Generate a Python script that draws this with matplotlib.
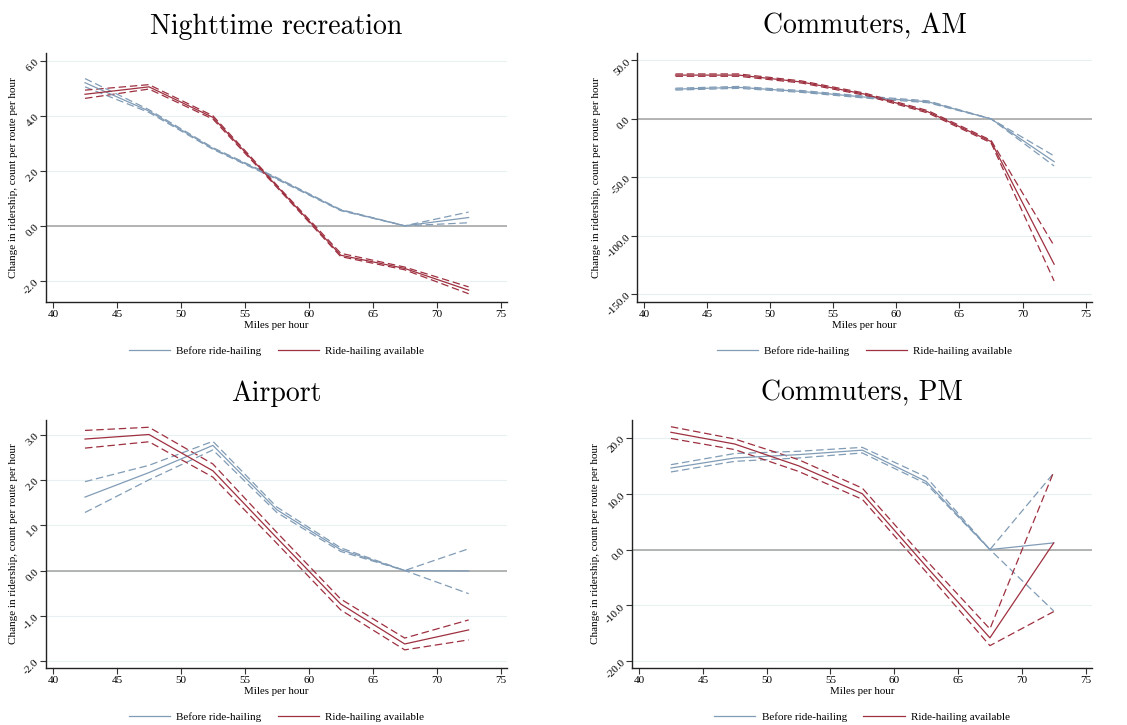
"""Speed-bin effects on ridership, before and after ride-hailing (4 panels)."""

import numpy as np
import matplotlib.pyplot as plt

# Speed bins (mph)
mph = [42.5, 47.5, 52.5, 57.5, 62.5, 67.5, 72.5]

# Nighttime recreation
night_before = [5.20, 4.17, 2.81, 1.72, 0.57, 0.0, 0.30]
night_before_lo = [5.05, 4.12, 2.78, 1.69, 0.55, 0.0, 0.11]
night_before_hi = [5.35, 4.22, 2.84, 1.75, 0.59, 0.0, 0.50]
night_after = [4.78, 5.05, 3.94, 1.44, -1.07, -1.55, -2.34]
night_after_lo = [4.63, 4.97, 3.88, 1.40, -1.12, -1.60, -2.47]
night_after_hi = [4.93, 5.13, 4.00, 1.48, -1.00, -1.50, -2.22]

# Commuters, AM
am_before = [25.4, 26.9, 23.4, 18.6, 14.6, 0.0, -36.6]
am_before_lo = [24.6, 26.1, 22.6, 17.8, 13.8, 0.0, -40.3]
am_before_hi = [26.2, 27.7, 24.2, 19.4, 15.4, 0.0, -31.7]
am_after = [37.4, 37.4, 31.5, 21.1, 6.0, -19.4, -124.3]
am_after_lo = [36.4, 36.4, 30.6, 20.2, 5.0, -20.5, -138.6]
am_after_hi = [38.4, 38.4, 32.4, 22.0, 7.0, -18.3, -108.6]

# Airport
air_before = [1.62, 2.16, 2.76, 1.34, 0.46, 0.0, -0.01]
air_before_lo = [1.28, 2.00, 2.66, 1.28, 0.42, 0.0, -0.51]
air_before_hi = [1.96, 2.32, 2.85, 1.40, 0.50, 0.0, 0.48]
air_after = [2.90, 3.00, 2.20, 0.72, -0.74, -1.62, -1.31]
air_after_lo = [2.70, 2.84, 2.06, 0.60, -0.87, -1.75, -1.53]
air_after_hi = [3.09, 3.16, 2.35, 0.84, -0.63, -1.49, -1.09]

# Commuters, PM
pm_before = [14.6, 16.4, 17.0, 17.8, 12.2, 0.0, 1.2]
pm_before_lo = [13.9, 15.8, 16.4, 17.3, 11.8, 0.0, -11.0]
pm_before_hi = [15.2, 17.2, 17.6, 18.3, 13.0, 0.0, 13.7]
pm_after = [21.0, 18.9, 15.0, 10.0, -3.0, -15.8, 1.2]
pm_after_lo = [19.9, 17.9, 14.0, 9.0, -4.0, -17.2, -11.1]
pm_after_hi = [22.0, 19.8, 16.1, 11.0, -1.9, -14.2, 13.9]

BLUE = "#819cb6"
RED = "#9e3040"
SERIF = ["Liberation Serif", "DejaVu Serif"]

plt.rcParams["font.family"] = SERIF


def panel(ax, title, before, b_lo, b_hi, after, a_lo, a_hi, yticks, ylim):
    x = np.array(mph)
    ax.axhline(0, color="#a8a8a8", lw=1.2, zorder=1)
    for yt in yticks:
        ax.axhline(yt, color="#e8f0f2", lw=0.8, zorder=0)
    for mean, lo, hi, col in [(before, b_lo, b_hi, BLUE),
                              (after, a_lo, a_hi, RED)]:
        ax.plot(x, lo, color=col, lw=0.9, dashes=(6, 3), zorder=2)
        ax.plot(x, hi, color=col, lw=0.9, dashes=(6, 3), zorder=2)
        ax.plot(x, mean, color=col, lw=0.9, zorder=3)

    ax.set_xlim(39.45, 75.5)
    ax.set_ylim(*ylim)
    ax.set_xticks(range(40, 80, 5))
    ax.set_yticks(yticks)
    ax.set_yticklabels([f"{v:.1f}" for v in yticks], rotation=45,
                       va="center", ha="right", rotation_mode="anchor")
    ax.tick_params(labelsize=8, length=4, width=0.8, color="#333333",
                   pad=2)
    for s in ["top", "right"]:
        ax.spines[s].set_visible(False)
    for s in ["left", "bottom"]:
        ax.spines[s].set_color("#222222")
        ax.spines[s].set_linewidth(1.0)

    ax.set_xlabel("Miles per hour", fontsize=7.8, labelpad=1.5)
    ax.set_ylabel("Change in ridership, count per route per hour",
                  fontsize=8, labelpad=3)
    ax.set_title(title, fontsize=20, family="cmr10", pad=14)

    h1, = ax.plot([], [], color=BLUE, lw=0.9)
    h2, = ax.plot([], [], color=RED, lw=0.9)
    ax.legend([h1, h2], ["Before ride-hailing", "Ride-hailing available"],
              loc="center", bbox_to_anchor=(0.5, -0.197), ncol=2,
              frameon=False, fontsize=8, handlelength=3.7,
              handletextpad=0.55, columnspacing=1.5)


fig = plt.figure(figsize=(11.27, 7.25), dpi=100)
W, H = 1127.0, 725.0

ax1 = fig.add_axes([46 / W, 1 - 302 / H, 461 / W, 249 / H])
ax2 = fig.add_axes([637 / W, 1 - 302 / H, 455 / W, 249 / H])
ax3 = fig.add_axes([46 / W, 1 - 668 / H, 461 / W, 248 / H])
ax4 = fig.add_axes([632 / W, 1 - 668 / H, 460 / W, 248 / H])

panel(ax1, "Nighttime recreation", night_before, night_before_lo,
      night_before_hi, night_after, night_after_lo, night_after_hi,
      [-2.0, 0.0, 2.0, 4.0, 6.0], (-2.77, 6.28))
panel(ax2, "Commuters, AM", am_before, am_before_lo, am_before_hi,
      am_after, am_after_lo, am_after_hi,
      [-150.0, -100.0, -50.0, 0.0, 50.0], (-156.6, 56.3))
panel(ax3, "Airport", air_before, air_before_lo, air_before_hi,
      air_after, air_after_lo, air_after_hi,
      [-2.0, -1.0, 0.0, 1.0, 2.0, 3.0], (-2.15, 3.32))
panel(ax4, "Commuters, PM", pm_before, pm_before_lo, pm_before_hi,
      pm_after, pm_after_lo, pm_after_hi,
      [-20.0, -10.0, 0.0, 10.0, 20.0], (-21.2, 23.2))

fig.savefig("out.png", dpi=100)
